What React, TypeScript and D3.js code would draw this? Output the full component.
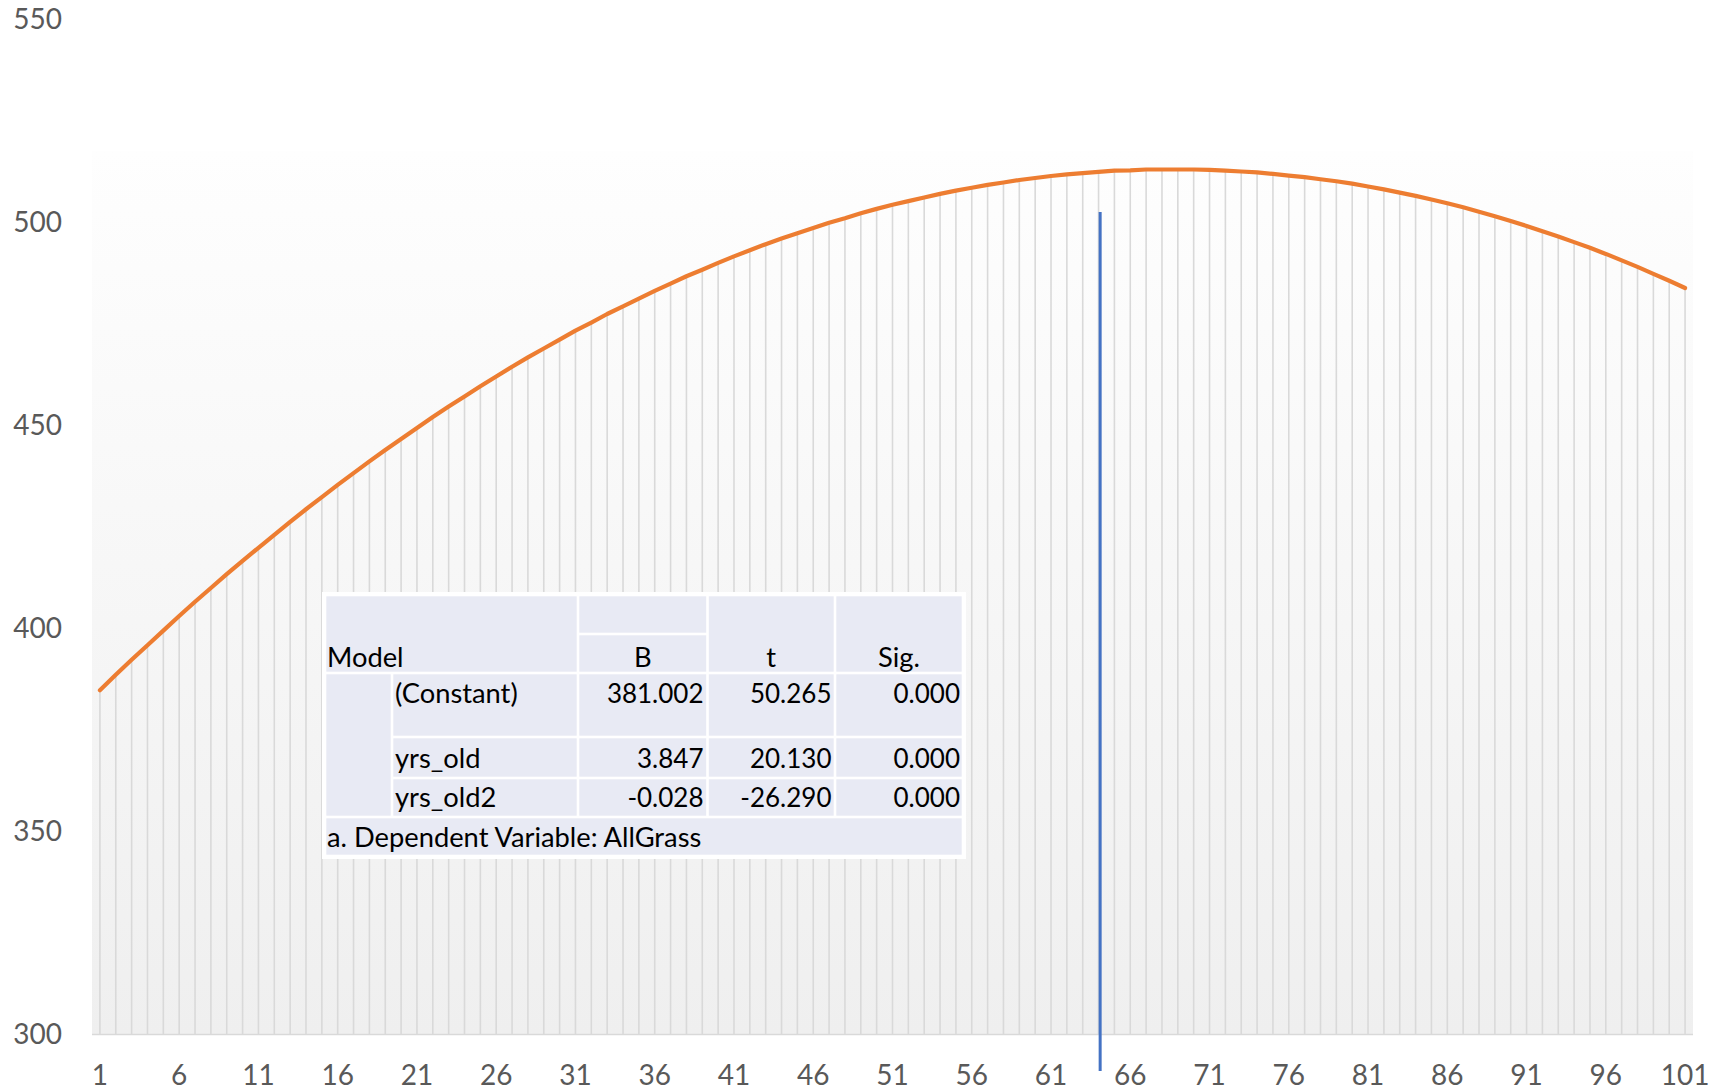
import React from "react";
import * as d3 from "d3";

const categories: number[] = Array.from({ length: 101 }, (_, i) => i + 1);
const fittedValues: number[] = [
  384.8, 388.6, 392.3, 395.9, 399.5, 403.1, 406.6, 410.0, 413.4, 416.7,
  419.9, 423.1, 426.3, 429.4, 432.4, 435.4, 438.3, 441.2, 444.0, 446.7,
  449.4, 452.1, 454.7, 457.2, 459.7, 462.1, 464.5, 466.8, 469.0, 471.2,
  473.4, 475.4, 477.5, 479.4, 481.3, 483.2, 485.0, 486.8, 488.4, 490.1,
  491.7, 493.2, 494.7, 496.1, 497.4, 498.7, 500.0, 501.1, 502.3, 503.4,
  504.4, 505.3, 506.2, 507.1, 507.9, 508.6, 509.3, 509.9, 510.5, 511.0,
  511.5, 511.9, 512.2, 512.5, 512.8, 512.9, 513.1, 513.1, 513.1, 513.1,
  513.0, 512.8, 512.6, 512.4, 512.0, 511.6, 511.2, 510.7, 510.2, 509.6,
  508.9, 508.2, 507.4, 506.6, 505.7, 504.8, 503.8, 502.7, 501.6, 500.4,
  499.2, 497.9, 496.6, 495.2, 493.8, 492.3, 490.7, 489.1, 487.4, 485.7,
  483.9,
];
const yTicks: number[] = [300, 350, 400, 450, 500, 550];
const xTickLabels: number[] = [1, 6, 11, 16, 21, 26, 31, 36, 41, 46, 51, 56, 61, 66, 71, 76, 81, 86, 91, 96, 101];
const markerCategory = 64.1;
const markerTop = 502.6;
const markerBottom = 291.0;
const plotTopValue = 517.7;

const tableHeader: string[] = ["Model", "B", "t", "Sig."];
const rowLabels: string[] = ["(Constant)", "yrs_old", "yrs_old2"];
const colB: string[] = ["381.002", "3.847", "-0.028"];
const colT: string[] = ["50.265", "20.130", "-26.290"];
const colSig: string[] = ["0.000", "0.000", "0.000"];
const footnote = "a. Dependent Variable: AllGrass";

export default function App() {
  const W = 1727;
  const H = 1091;
  const x = d3.scaleLinear().domain([0.5, 101.5]).range([92, 1693]);
  const y = d3.scaleLinear().domain([300, 550]).range([1034.5, 19.7]);
  const line = d3
    .line<number>()
    .x((_, i) => x(categories[i]))
    .y((d) => y(d));

  // table geometry
  const cx = [325, 392, 578, 707.5, 835, 963];
  const ry = [595, 634, 673, 737, 778, 817, 856];
  const fill = "#e8eaf4";
  const g = 1.3;
  const cell = (x0: number, y0: number, x1: number, y1: number, k: string) => (
    <rect key={k} x={x0 + g} y={y0 + g} width={x1 - x0 - 2 * g} height={y1 - y0 - 2 * g} fill={fill} />
  );
  const tw = { fontFamily: "Lato, 'Open Sans', sans-serif", fontSize: 27.3, fill: "#000" };
  const tn = { fontFamily: "Lato, 'Open Sans', sans-serif", fontSize: 26, fill: "#000" };
  const rowBase = [703, 768, 806.5];
  const axisFont = "Lato, 'Open Sans', sans-serif";

  return (
    <svg width={W} height={H} style={{ position: "absolute", left: 0, top: 0, background: "#fff" }}>
      <defs>
        <linearGradient id="bg" x1="0" y1="0" x2="0" y2="1">
          <stop offset="0" stopColor="#fefefe" />
          <stop offset="1" stopColor="#efefef" />
        </linearGradient>
      </defs>
      <rect x={92} y={y(plotTopValue)} width={1693 - 92} height={y(300) - y(plotTopValue)} fill="url(#bg)" />
      {categories.map((c, i) => (
        <line key={c} x1={x(c)} x2={x(c)} y1={y(fittedValues[i])} y2={y(300)} stroke="#d9d9d9" strokeWidth={1.6} />
      ))}
      <line x1={92} x2={1693} y1={y(300)} y2={y(300)} stroke="#d9d9d9" strokeWidth={1.6} />
      <path d={line(fittedValues) || ""} fill="none" stroke="#ed7d31" strokeWidth={4.2} strokeLinecap="round" strokeLinejoin="round" />
      <line x1={x(markerCategory)} x2={x(markerCategory)} y1={y(markerTop)} y2={y(markerBottom)} stroke="#4472c4" strokeWidth={3} />
      {yTicks.map((t) => (
        <text key={t} x={62} y={y(t) + 9} textAnchor="end" fontFamily={axisFont} fontSize={28} fill="#595959">
          {t}
        </text>
      ))}
      {xTickLabels.map((t) => (
        <text key={t} x={x(t)} y={1084.5} textAnchor="middle" fontFamily={axisFont} fontSize={28} fill="#595959">
          {t}
        </text>
      ))}
      {/* regression table */}
      <rect x={322} y={592} width={966 - 322} height={859 - 592} fill="#fff" />
      {cell(cx[0], ry[0], cx[2], ry[2], "model")}
      {cell(cx[2], ry[0], cx[3], ry[1], "bTop")}
      {cell(cx[2], ry[1], cx[3], ry[2], "bHead")}
      {cell(cx[3], ry[0], cx[4], ry[2], "tHead")}
      {cell(cx[4], ry[0], cx[5], ry[2], "sigHead")}
      {cell(cx[0], ry[2], cx[1], ry[5], "indent")}
      {rowLabels.map((_, r) => (
        <g key={"row" + r}>
          {cell(cx[1], ry[2 + r], cx[2], ry[3 + r], "l" + r)}
          {cell(cx[2], ry[2 + r], cx[3], ry[3 + r], "b" + r)}
          {cell(cx[3], ry[2 + r], cx[4], ry[3 + r], "t" + r)}
          {cell(cx[4], ry[2 + r], cx[5], ry[3 + r], "s" + r)}
        </g>
      ))}
      {cell(cx[0], ry[5], cx[5], ry[6], "foot")}
      <text x={327} y={666.5} {...tw}>{tableHeader[0]}</text>
      <text x={(cx[2] + cx[3]) / 2} y={666.5} textAnchor="middle" {...tw}>{tableHeader[1]}</text>
      <text x={(cx[3] + cx[4]) / 2} y={666.5} textAnchor="middle" {...tw}>{tableHeader[2]}</text>
      <text x={(cx[4] + cx[5]) / 2} y={666.5} textAnchor="middle" {...tw}>{tableHeader[3]}</text>
      {rowLabels.map((lab, r) => (
        <g key={"txt" + r}>
          <text x={395} y={rowBase[r]} {...tw}>{lab}</text>
          <text x={cx[3] - 4} y={rowBase[r]} textAnchor="end" {...tn}>{colB[r]}</text>
          <text x={cx[4] - 3.5} y={rowBase[r]} textAnchor="end" {...tn}>{colT[r]}</text>
          <text x={cx[5] - 3} y={rowBase[r]} textAnchor="end" {...tn}>{colSig[r]}</text>
        </g>
      ))}
      <text x={327} y={846.5} {...tw}>{footnote}</text>
    </svg>
  );
}
